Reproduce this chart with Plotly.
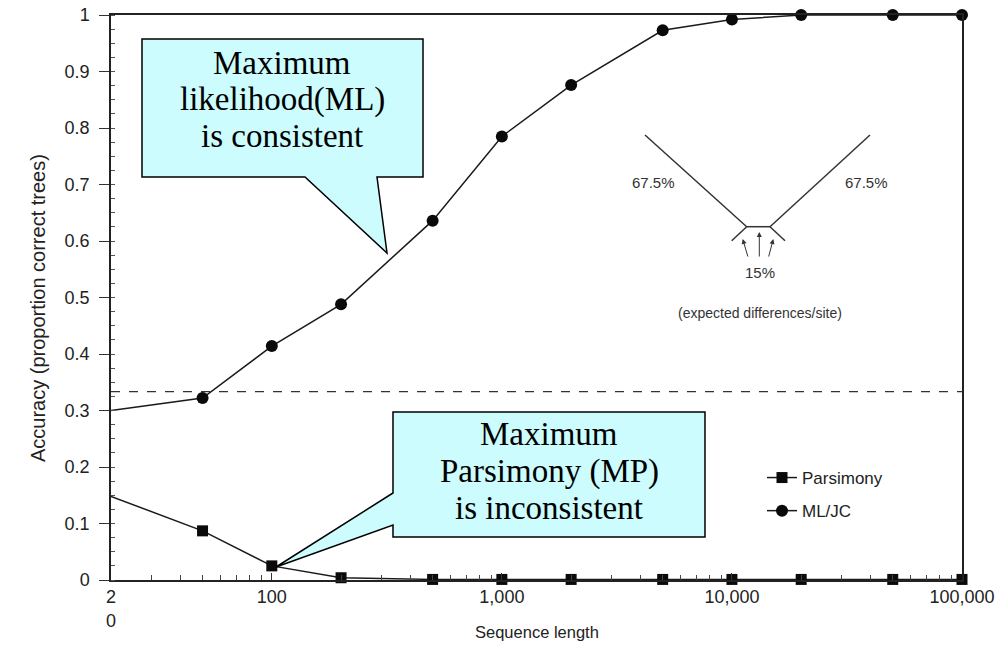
import plotly.graph_objects as go

# ---- data ----
seq_len = [20, 50, 100, 200, 500, 1000, 2000, 5000, 10000, 20000, 50000, 100000]
ml_jc = [0.300, 0.322, 0.414, 0.488, 0.636, 0.785, 0.876, 0.973, 0.992, 1.0, 1.0, 1.0]
parsimony = [0.148, 0.087, 0.025, 0.004, 0.001, 0.001, 0.001, 0.001, 0.001, 0.001, 0.001, 0.001]
x_tickvals = [20, 100, 1000, 10000, 100000]
x_ticktext = ["2<br>0", "100", "1,000", "10,000", "100,000"]
y_tickvals = [0, 0.1, 0.2, 0.3, 0.4, 0.5, 0.6, 0.7, 0.8, 0.9, 1]
y_ticktext = ["0", "0.1", "0.2", "0.3", "0.4", "0.5", "0.6", "0.7", "0.8", "0.9", "1"]
chance_level = 1 / 3
ml_callout_lines = ["Maximum", "likelihood(ML)", "is consistent"]
mp_callout_lines = ["Maximum", "Parsimony (MP)", "is inconsistent"]

W, H = 1008, 645
L, R, T, B = 111, 962, 15, 580   # plot area in window pixels


def px(x):
    return (x - L) / (R - L)


def py(y):
    return (B - y) / (B - T)


def path(points):
    return "M " + " L ".join(f"{px(a):.5f},{py(b):.5f}" for a, b in points) + " Z"


fig = go.Figure()
fig.add_trace(go.Scatter(
    x=seq_len, y=parsimony, name="Parsimony", mode="lines+markers",
    line=dict(color="#1a1a1a", width=1.5),
    marker=dict(symbol="square", size=11, color="#0a0a0a"),
    cliponaxis=False, legendgroup="p"))
fig.add_trace(go.Scatter(
    x=seq_len, y=ml_jc, name="ML/JC", mode="lines+markers",
    line=dict(color="#1a1a1a", width=1.5),
    marker=dict(symbol="circle", size=12, color="#0a0a0a"),
    cliponaxis=False, legendgroup="m"))

shapes = []
shapes.append(dict(type="line", xref="paper", yref="y", x0=0, x1=1, y0=chance_level, y1=chance_level,
                   line=dict(color="#333", width=1.2, dash="dash"), layer="below"))
shapes.append(dict(type="path", xref="paper", yref="paper", layer="above",
                   path=path([(142, 39), (423, 39), (423, 177), (377, 177), (387, 253), (305, 177), (142, 177)]),
                   fillcolor="#ccfcfd", line=dict(color="black", width=1.5)))
shapes.append(dict(type="path", xref="paper", yref="paper", layer="above",
                   path=path([(393, 412), (705, 412), (705, 537), (393, 537), (393, 525), (276, 567), (393, 493)]),
                   fillcolor="#ccfcfd", line=dict(color="black", width=1.5)))
tree_lines = [((645, 135), (746.7, 226.7)), ((870, 135), (770, 226.7)),
              ((746.7, 226.7), (770, 226.7)), ((746.7, 226.7), (731.7, 240.7)),
              ((770, 226.7), (785, 240.7))]
for (a, b), (c, d) in tree_lines:
    shapes.append(dict(type="line", xref="paper", yref="paper", x0=px(a), y0=py(b), x1=px(c), y1=py(d),
                       line=dict(color="#333", width=1.5)))

serif = "Liberation Serif, Times New Roman, serif"
sans = "Liberation Sans, Arial, sans-serif"
ann = []


def text_ann(x, y, text, font, angle=0):
    return dict(x=px(x), y=py(y), xref="paper", yref="paper", showarrow=False, text=text,
                xanchor="center", yanchor="middle", font=font, textangle=angle)


for yy, line in zip([63, 99, 136], ml_callout_lines):
    ann.append(text_ann(282, yy, line, dict(family=serif, size=33, color="black")))
for yy, line in zip([434, 471, 508], mp_callout_lines):
    ann.append(text_ann(549, yy, line, dict(family=serif, size=33, color="black")))
for xx, txt in [(653, "67.5%"), (866, "67.5%")]:
    ann.append(text_ann(xx, 182, txt, dict(family=sans, size=15, color="#333")))
ann.append(text_ann(760, 272, "15%", dict(family=sans, size=15, color="#333")))
ann.append(text_ann(760, 313, "(expected differences/site)", dict(family=sans, size=14, color="#333")))
for (hx, hy), (tx, ty) in [((742.7, 239), (748.3, 258)), ((759.3, 232), (759.3, 258)), ((773.3, 239), (768.3, 258))]:
    ann.append(dict(x=px(hx), y=py(hy), xref="paper", yref="paper", ax=tx - hx, ay=ty - hy,
                    showarrow=True, arrowhead=2, arrowsize=1, arrowwidth=1, arrowcolor="#333", text=""))
ann.append(text_ann(537, 632, "Sequence length", dict(family=sans, size=16.5, color="#222")))
ann.append(text_ann(38, 308, "Accuracy (proportion correct trees)", dict(family=sans, size=20, color="#222"), angle=-90))

fig.update_xaxes(type="log", range=[1.30103, 5], tickmode="array", tickvals=x_tickvals, ticktext=x_ticktext,
                 showline=True, linecolor="#222", linewidth=1.5, mirror=True, automargin=False,
                 ticks="inside", ticklen=7, tickcolor="#333", showgrid=False, zeroline=False,
                 ticklabeloverflow="allow",
                 minor=dict(tickmode="array",
                            tickvals=[30, 40, 50, 60, 70, 80, 90, 200, 300, 400, 500, 600, 700, 800, 900,
                                      2000, 3000, 4000, 5000, 6000, 7000, 8000, 9000,
                                      20000, 30000, 40000, 50000, 60000, 70000, 80000, 90000],
                            ticks="inside", ticklen=5, tickcolor="#444"),
                 tickfont=dict(family=sans, size=18, color="#222"))
fig.update_yaxes(range=[0, 1], tickmode="array", tickvals=y_tickvals, ticktext=y_ticktext,
                 showline=True, linecolor="#222", linewidth=1.5, mirror=True, automargin=False,
                 ticks="outside", ticklen=10, tickcolor="#333", showgrid=False, zeroline=False,
                 ticklabelstandoff=6, ticklabeloverflow="allow",
                 minor=dict(dtick=0.025, ticks="inside", ticklen=4, tickcolor="#555"),
                 tickfont=dict(family=sans, size=18, color="#222"))

fig.update_layout(
    width=W, height=H,
    margin=dict(l=L, r=W - R, t=T, b=H - B, autoexpand=False),
    paper_bgcolor="white", plot_bgcolor="white",
    shapes=shapes, annotations=ann,
    legend=dict(x=px(762), y=py(460), xanchor="left", yanchor="top", bgcolor="rgba(0,0,0,0)",
                font=dict(family=sans, size=17, color="#222"), tracegroupgap=8, itemwidth=30),
)

fig.write_html("out.html", config={"displayModeBar": False},
               post_script="document.body.style.margin='0';")
